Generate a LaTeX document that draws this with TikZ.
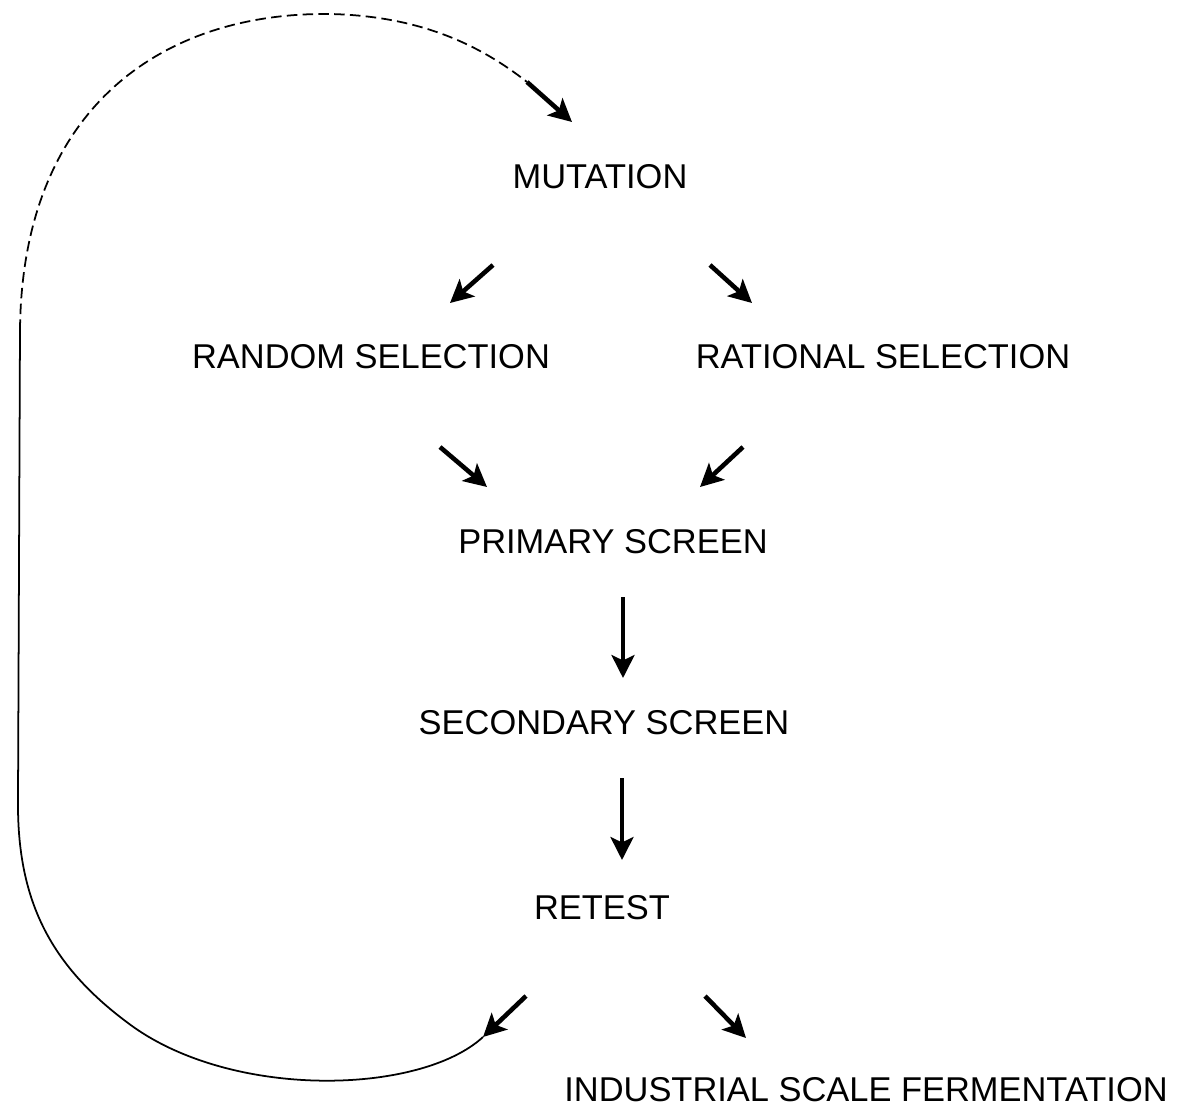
\documentclass[tikz,border=0pt]{standalone}
\usepackage{fontspec}
\setmainfont{Liberation Sans}
\usetikzlibrary{arrows.meta,calc}

\begin{document}
\begin{tikzpicture}[x=0.02cm, y=-0.02cm,
	stage/.style={font=\fontsize{19.6}{23}\selectfont, inner sep=2pt},
	arr/.style={-{Stealth[length=13pt, width=13pt, inset=3pt]}, line width=2.6pt},
	backline/.style={line width=1pt}]
	\useasboundingbox (0, 0) rectangle (1179, 1109);
	\node [stage] (mut) at (600, 177) {MUTATION};
	\node [stage] (rand) at (371, 357) {RANDOM SELECTION};
	\node [stage] (rat) at (883, 357) {RATIONAL SELECTION};
	\node [stage] (prim) at (613, 542) {PRIMARY SCREEN};
	\node [stage] (sec) at (604, 723) {SECONDARY SCREEN};
	\node [stage] (ret) at (602, 908) {RETEST};
	\node [stage] (ind) at (866, 1090) {INDUSTRIAL SCALE FERMENTATION};
	\coordinate (back) at (483, 1037);
	\coordinate (loopend) at (527, 82);
	\draw [arr] ($(mut)+(-107, 88)$) -- ($(rand)+(79, -54)$);
	\draw [arr] ($(mut)+(110, 88)$) -- ($(rat)+(-131, -54)$);
	\draw [arr] ($(rand)+(69, 90)$) -- ($(prim)+(-126, -55)$);
	\draw [arr] ($(rat)+(-140, 90)$) -- ($(prim)+(87, -55)$);
	\draw [arr] ($(prim)+(10, 55)$) -- ($(sec)+(19, -45)$);
	\draw [arr] ($(sec)+(18, 55)$) -- ($(ret)+(20, -48)$);
	\draw [arr] ($(ret)+(-76, 88)$) -- (back);
	\draw [arr] ($(ret)+(103, 88)$) -- ($(ind)+(-120, -52)$);
	% loop back to mutation
	\draw [backline] (back) .. controls (420, 1095) and (230, 1100) .. (128, 1023)
		.. controls (50, 965) and (17, 900) .. (18, 800) -- (20, 330);
	\draw [backline, dash pattern=on 6pt off 3pt] (20, 330) .. controls (22, 110) and (160, 12) .. (330, 14)
		.. controls (420, 16) and (480, 45) .. (loopend);
	\draw [arr] (loopend) -- ($(mut)+(-28, -55)$);
\end{tikzpicture}
\end{document}
